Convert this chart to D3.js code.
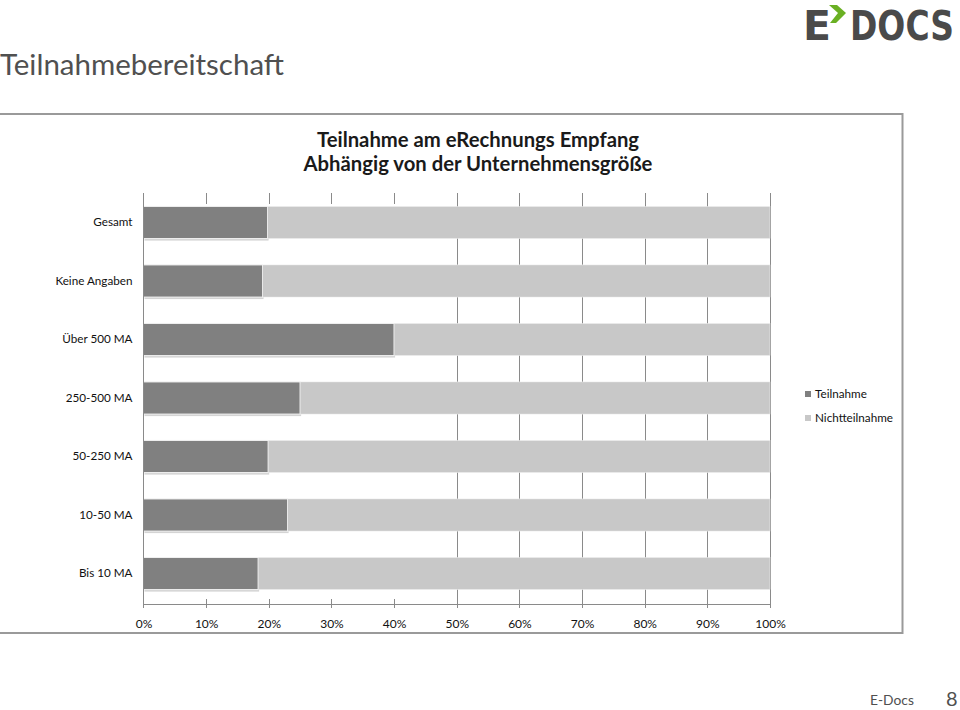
<!DOCTYPE html>
<html><head><meta charset="utf-8">
<script src="https://cdn.jsdelivr.net/npm/d3@7"></script>
<style>body{margin:0;background:#fff}svg{display:block}</style>
</head><body>
<script>
const categories = ["Gesamt","Keine Angaben","Über 500 MA","250-500 MA","50-250 MA","10-50 MA","Bis 10 MA"];
const teilnahme = [19.8, 19.0, 40.0, 25.0, 19.9, 23.0, 18.3];
const nichtteilnahme = teilnahme.map(v => 100 - v);
const tickValues = [0,10,20,30,40,50,60,70,80,90,100];
const seriesNames = ["Teilnahme","Nichtteilnahme"];
const seriesColors = ["#808080","#c8c8c8"];

const W = 960, H = 710;
const font = "Lato, 'Open Sans', sans-serif";
const svg = d3.select("body").append("svg").attr("width", W).attr("height", H);

// slide title
svg.append("text").attr("x", 0).attr("y", 75).attr("font-family", "Lato, sans-serif")
  .attr("font-size", 29).attr("fill", "#505050").attr("textLength", 284).attr("lengthAdjust","spacingAndGlyphs")
  .text("Teilnahmebereitschaft");

// logo
const logo = svg.append("g");
logo.append("text").attr("transform", "translate(803,40) scale(1,1.15)").attr("font-family", "'DejaVu Sans Condensed', 'DejaVu Sans', sans-serif")
  .attr("font-weight", "bold").attr("font-size", 36).attr("fill", "#4a4a4a")
  .attr("textLength", 28).attr("lengthAdjust","spacingAndGlyphs").text("E");
logo.append("text").attr("transform", "translate(850,40) scale(1,1.15)").attr("font-family", "'DejaVu Sans Condensed', 'DejaVu Sans', sans-serif")
  .attr("font-weight", "bold").attr("font-size", 36).attr("fill", "#4a4a4a")
  .attr("textLength", 104).attr("lengthAdjust","spacingAndGlyphs").text("DOCS");
logo.append("path").attr("d", "M829,5 L837,5 L846,13 L836,23 L830,23 L838,13 Z").attr("fill", "#6ab023");

// chart frame
const frame = svg.append("g").attr("stroke", "#9a9a9a").attr("stroke-width", 2).attr("fill", "none");
frame.append("line").attr("x1", 0).attr("x2", 903).attr("y1", 114).attr("y2", 114);
frame.append("line").attr("x1", 0).attr("x2", 903).attr("y1", 633).attr("y2", 633);
frame.append("line").attr("x1", 902.5).attr("x2", 902.5).attr("y1", 113).attr("y2", 634);

// chart title
const ct = svg.append("text").attr("text-anchor", "middle").attr("font-family", font)
  .attr("font-weight", "bold").attr("font-size", 20.3).attr("fill", "#1a1a1a");
ct.append("tspan").attr("x", 478).attr("y", 147).text("Teilnahme am eRechnungs Empfang");
ct.append("tspan").attr("x", 478).attr("y", 171).text("Abhängig von der Unternehmensgröße");

// scales
const x = d3.scaleLinear().domain([0, 100]).range([143.5, 770]);
const y = d3.scaleBand().domain(categories).range([193, 603]).paddingInner(0.45).paddingOuter(0.229);

// gridlines
const grid = svg.append("g").attr("stroke", "#8a8a8a").attr("stroke-width", 1);
tickValues.filter(t => t > 0).forEach(t => {
  const xx = Math.round(x(t)) + 0.5;
  if (t >= 50) {
    grid.append("line").attr("x1", xx).attr("x2", xx).attr("y1", 193).attr("y2", 608);
  } else {
    grid.append("line").attr("x1", xx).attr("x2", xx).attr("y1", 193).attr("y2", 204);
    grid.append("line").attr("x1", xx).attr("x2", xx).attr("y1", 599).attr("y2", 608);
  }
});

// bars
const rows = categories.map((c, i) => ({c, vals: [teilnahme[i], nichtteilnahme[i]]}));
const barG = svg.append("g");
rows.forEach(r => {
  let acc = 0;
  const y0 = y(r.c), bh = y.bandwidth();
  barG.append("rect").attr("x", x(0) + 1).attr("y", y0 + 2).attr("width", x(r.vals[0]) - x(0)).attr("height", bh)
    .attr("fill", "#d4d4d4");
  r.vals.forEach((v, j) => {
    barG.append("rect").attr("x", x(acc)).attr("y", y0).attr("width", x(acc + v) - x(acc)).attr("height", bh)
      .attr("fill", seriesColors[j]).attr("stroke", "#f4f4f4").attr("stroke-width", j === 0 ? 1 : 0.5);
    acc += v;
  });
});

// y axis line
svg.append("line").attr("x1", 143.5).attr("x2", 143.5).attr("y1", 193).attr("y2", 608)
  .attr("stroke", "#8a8a8a").attr("stroke-width", 1);

// x axis
const xAxis = d3.axisBottom(x).tickValues(tickValues).tickFormat(d => d + "%").tickSize(0).tickPadding(15);
const xg = svg.append("g").attr("transform", "translate(0,604)").call(xAxis);
xg.select(".domain").attr("stroke", "#8a8a8a");
xg.selectAll(".tick text").attr("font-family", font).attr("font-size", 12).attr("fill", "#111");

// y labels
const yAxis = d3.axisLeft(y).tickSize(0).tickPadding(11);
const yg = svg.append("g").attr("transform", "translate(143.5,0)").call(yAxis);
yg.select(".domain").remove();
yg.selectAll(".tick text").attr("font-family", font).attr("font-size", 11.7).attr("fill", "#111");

// legend
const lg = svg.append("g");
seriesNames.forEach((n, i) => {
  const ly = 394 + i * 24;
  lg.append("rect").attr("x", 805).attr("y", ly - 3).attr("width", 6).attr("height", 6).attr("fill", seriesColors[i]);
  lg.append("text").attr("x", 815).attr("y", ly + 4).attr("font-family", font).attr("font-size", 11.7).attr("fill", "#111").text(n);
});

// footer
svg.append("text").attr("x", 870).attr("y", 705).attr("font-family", font).attr("font-size", 13.8).attr("fill", "#505050").text("E-Docs");
svg.append("text").attr("x", 946).attr("y", 706).attr("font-family", font).attr("font-size", 20).attr("fill", "#505050").text("8");
</script>
</body></html>
